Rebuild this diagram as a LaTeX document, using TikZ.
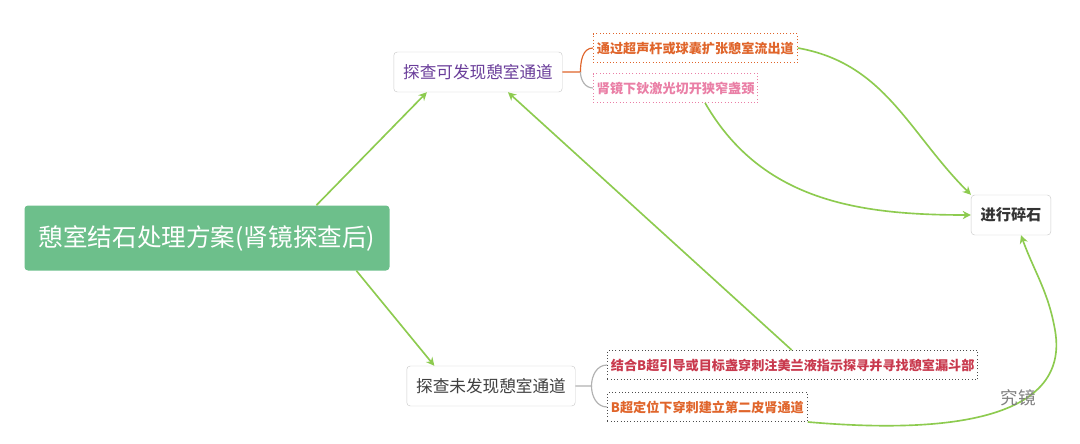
\documentclass[tikz,border=0pt]{standalone}
\usepackage{fontspec}
\setmainfont{Noto Sans CJK SC}
\usetikzlibrary{positioning,arrows.meta}
\definecolor{rootgreen}{HTML}{6DBF8B}
\definecolor{linkgreen}{HTML}{8DCB4F}
\definecolor{purp}{HTML}{6A3D9A}
\definecolor{orng}{HTML}{E0652B}
\definecolor{pnk}{HTML}{EA7FA6}
\definecolor{rd}{HTML}{C93A4E}
\tikzset{
    topic/.style={draw=gray!40,rounded corners=3pt,fill=white,minimum height=40*0.03cm,inner xsep=8pt,font=\fontsize{14.2}{16}\selectfont},
    leaf/.style={draw=#1,dotted,thick,inner sep=3pt,minimum height=29*0.03cm,font=\fontsize{11.2}{13}\selectfont\bfseries},
    link/.style={linkgreen,line width=1.4pt,-{Stealth[length=7pt,width=7pt]}}
}
\begin{document}
\begin{tikzpicture}[x=0.03cm,y=-0.03cm]
        %Frame
            \useasboundingbox[fill=white] (0,0) rectangle (1080,443);
        %Root
            \node (root) [fill=rootgreen,rounded corners=3pt,text=white,minimum width=365*0.03cm,minimum height=65*0.03cm,font=\fontsize{21}{25}\selectfont] at (207,238) {憩室结石处理方案(肾镜探查后)};
        %Topics
            \node (found) [topic,text=purp] at (478,72) {探查可发现憩室通道};
            \node (notfound) [topic,text=black!75] at (491,386) {探查未发现憩室通道};
            \node (stone) [topic,text=black!80,font=\fontsize{13}{15}\selectfont\bfseries] at (1011,215) {进行碎石};
        %Leaves
            \node (dilate) [leaf=orng,text=orng,anchor=west] at (593,48) {通过超声杆或球囊扩张憩室流出道};
            \node (laser) [leaf=pnk,text=pnk,anchor=west] at (593,88) {肾镜下钬激光切开狭窄盏颈};
            \node (dye) [leaf=black!70,text=rd,anchor=west] at (607,365) {结合B超引导或目标盏穿刺注美兰液指示探寻并寻找憩室漏斗部};
            \node (second) [leaf=black!70,text=orng,anchor=west] at (607,407) {B超定位下穿刺建立第二皮肾通道};
        %Brackets
            \draw[orng,line width=1pt] (found.east) -- ++(18,0) coordinate (fork) to[out=90,in=180] (dilate.west);
            \draw[gray!60,line width=1pt] (fork) to[out=-90,in=180] (laser.west);
            \draw[gray!60,line width=1pt] (notfound.east) -- ++(16,0) coordinate (fork2) to[out=90,in=180] (dye.west);
            \draw[gray!60,line width=1pt] (fork2) to[out=-90,in=180] (second.west);
        %Links
            \draw[link] ([xshift=-2.2cm]root.north east) -- ([xshift=1cm]found.south west);
            \draw[link] ([xshift=-1cm]root.south east) -- ([xshift=-1.7cm]notfound.north);
            \draw[link] ([xshift=-5.6cm]dye.north east) -- ([xshift=0.9cm]found.south);
            \draw[link] (dilate.east) to[out=-10,in=135] (stone.north west);
            \draw[link] ([xshift=-1.6cm]laser.south east) to[out=-60,in=180] (stone.west);
            \draw[link] (second.south east) to[out=-5,in=-80] (1055,330) to[out=100,in=-70] ([xshift=0.3cm]stone.south);
        %Watermark
            \node (mark) [text=gray,font=\fontsize{15}{17}\selectfont] at (1018,398) {究镜};
\end{tikzpicture}
\end{document}
